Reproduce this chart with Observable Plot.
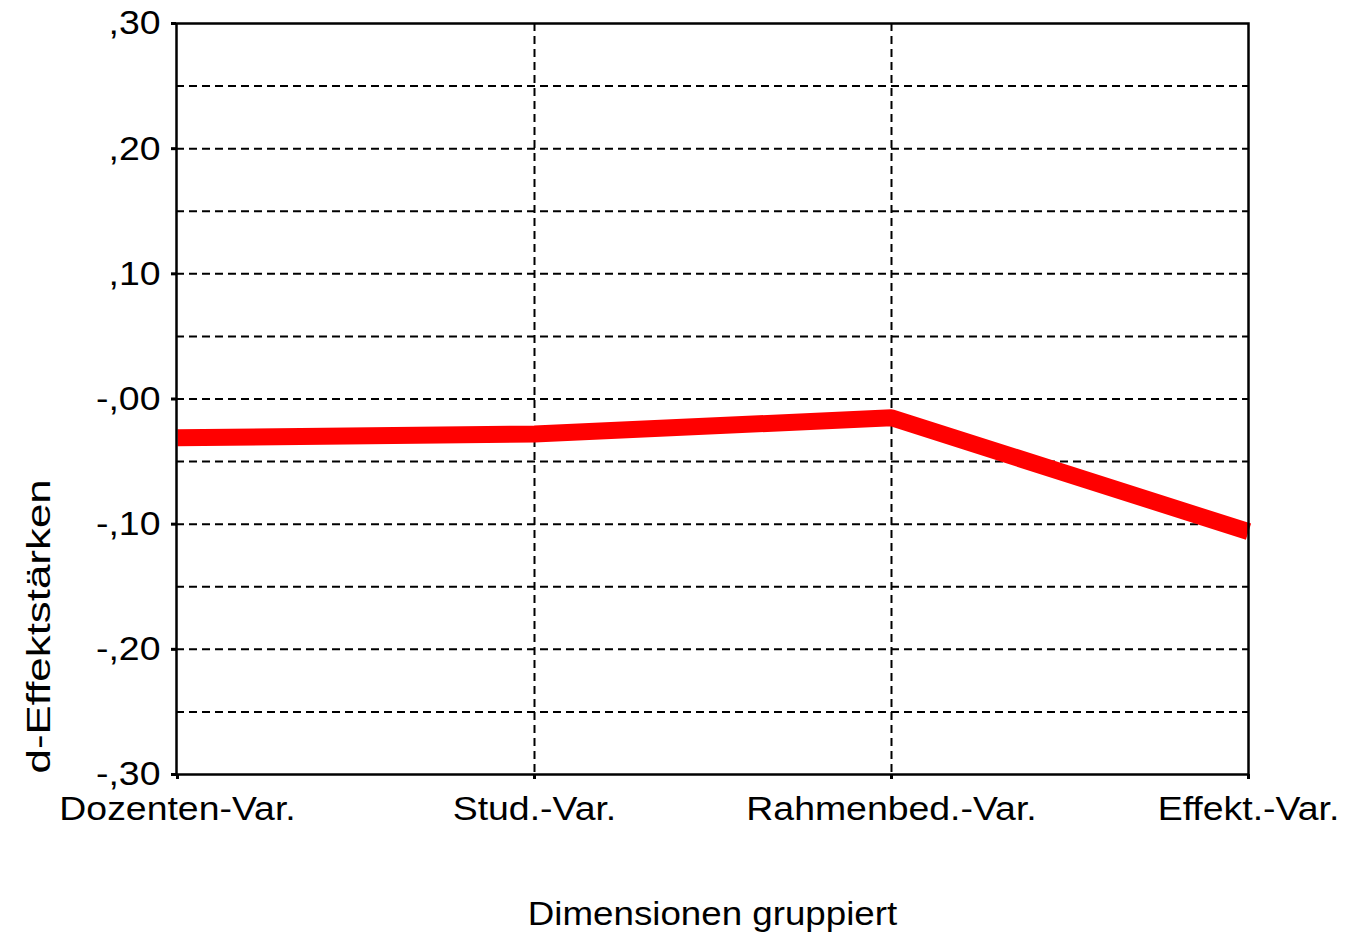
<!DOCTYPE html>
<html>
<head>
<meta charset="utf-8">
<script src="https://cdn.jsdelivr.net/npm/d3@7"></script>
<script src="https://cdn.jsdelivr.net/npm/@observablehq/plot@0.6"></script>
<style>
  html, body { margin: 0; padding: 0; background: white; }
</style>
</head>
<body>
<div id="chart"></div>
<script>
const categories = ["Dozenten-Var.", "Stud.-Var.", "Rahmenbed.-Var.", "Effekt.-Var."];
const effectSizes = [-0.031, -0.028, -0.015, -0.106];
const yTickValues = [0.3, 0.2, 0.1, 0, -0.1, -0.2, -0.3];
const yTickLabels = [",30", ",20", ",10", "-,00", "-,10", "-,20", "-,30"];
const yGridValues = [-0.25, -0.2, -0.15, -0.1, -0.05, 0, 0.05, 0.1, 0.15, 0.2, 0.25];
const xGridCategories = ["Stud.-Var.", "Rahmenbed.-Var."];
const yTitle = "d-Effektstärken";
const xTitle = "Dimensionen gruppiert";

const data = categories.map((c, i) => ({category: c, d: effectSizes[i]}));
const dash = {stroke: "black", strokeOpacity: 1, strokeWidth: 2, strokeDasharray: "8,5"};

const chart = Plot.plot({
  width: 1350,
  height: 933,
  marginLeft: 176,
  marginRight: 102,
  marginTop: 23,
  marginBottom: 159,
  style: {fontFamily: "'Liberation Sans', Arial, sans-serif", fontSize: "34px", color: "black", background: "white"},
  x: {type: "point", domain: categories, padding: 0, axis: null},
  y: {domain: [-0.3, 0.3], axis: null},
  marks: [
    Plot.gridY(yGridValues, dash),
    Plot.gridX(xGridCategories, dash),
    Plot.line(data, {x: "category", y: "d", stroke: "red", strokeWidth: 17, strokeLinejoin: "miter", strokeLinecap: "butt"}),
    Plot.frame({stroke: "black", strokeWidth: 2.5}),
    Plot.axisY(yTickValues, {tickSize: 5, strokeWidth: 3, tickPadding: 11, fontSize: 34, label: null,
      tickFormat: d => yTickLabels[yTickValues.indexOf(d)]}),
    Plot.axisX(categories, {tickSize: 5, strokeWidth: 3, tickPadding: 16, fontSize: 34, label: null}),
    Plot.text([yTitle], {frameAnchor: "bottom-left", rotate: -90, textAnchor: "start", lineAnchor: "middle", dx: -137, dy: -1, fontSize: 34, fill: "black"}),
    Plot.text([xTitle], {frameAnchor: "bottom", lineAnchor: "middle", dy: 140, fontSize: 34, fill: "black"})
  ]
});
document.getElementById("chart").appendChild(chart);

// horizontal stretch of the text, as in the original
d3.select(chart).selectAll("text").each(function() {
  const t = this.textContent;
  let f = null;
  if (t === yTitle) f = 1.29;
  else if (t === xTitle) f = 1.08;
  else if (categories.includes(t)) f = 1.10;
  else if (yTickLabels.includes(t)) f = 1.10;
  if (f) {
    const w = this.getComputedTextLength();
    this.setAttribute("textLength", (w * f).toFixed(1));
    this.setAttribute("lengthAdjust", "spacingAndGlyphs");
  }
});
</script>
</body>
</html>
